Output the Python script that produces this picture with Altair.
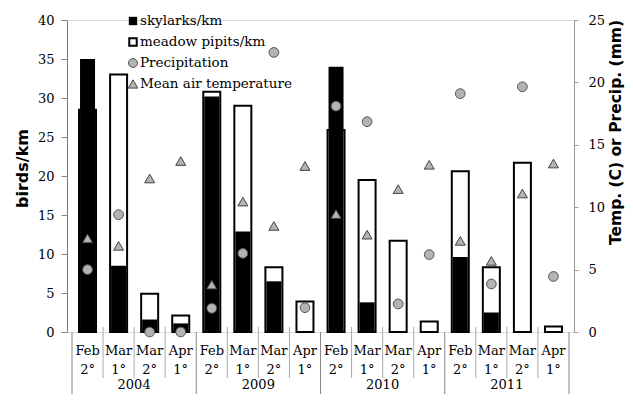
import altair as alt
import pandas as pd

months = ["Feb", "Mar", "Mar", "Apr"] * 4
periods = ["2°", "1°", "2°", "1°"] * 4
years = ["2004", "2009", "2010", "2011"]
skylarks = [35, 8.5, 1.6, 1.1, 30.2, 12.9, 6.5, 0, 34, 3.8, 0, 0, 9.6, 2.5, 0, 0]
pipits = [28.5, 33, 4.9, 2.1, 30.8, 29.0, 8.3, 3.9, 25.9, 19.5, 11.7, 1.35, 20.6, 8.3, 21.7, 0.72]
precip = [5.0, 9.4, 0.0, 0.0, 1.9, 6.3, 22.4, 1.95, 18.1, 16.85, 2.25, 6.2, 19.1, 3.85, 19.65, 4.45]
temp = [7.5, 6.9, 12.3, 13.7, 3.8, 10.45, 8.5, 13.3, 9.45, 7.8, 11.45, 13.4, 7.3, 5.7, 11.1, 13.5]
legend_labels = ["skylarks/km", "meadow pipits/km", "Precipitation", "Mean air temperature"]

SERIF = "DejaVu Serif"
SANS = "DejaVu Sans"
GRAY = "#b3b3b3"
FS = 13

n = len(months)
df = pd.DataFrame({
    "pos": [i + 0.5 for i in range(n)],
    "month": months, "period": periods,
    "sky": skylarks, "mp": pipits, "precip": precip, "temp": temp,
})
ydf = pd.DataFrame({"pos": [4 * g + 2 for g in range(len(years))], "year": years})
minor = pd.DataFrame({"pos": [i for i in range(1, n) if i % 4 != 0]})
major = pd.DataFrame({"pos": [i for i in range(0, n + 1, 4)]})

xs = alt.Scale(domain=[0, n], nice=False, zero=False)
X = alt.X("pos:Q", scale=xs, axis=alt.Axis(labels=False, ticks=False, grid=False, title=None,
                                           domainColor="#999999", domainWidth=1))
Xn = alt.X("pos:Q", scale=xs, axis=None)

yl = alt.Scale(domain=[0, 40], nice=False)
yr = alt.Scale(domain=[0, 25], nice=False)

left_axis = alt.Axis(values=list(range(0, 41, 5)), grid=False, title="birds/km",
                     labelFont=SERIF, labelFontSize=FS, labelColor="black",
                     tickSize=6, tickColor="#888888", domainColor="#777777",
                     labelPadding=7, titleFont=SANS, titleFontSize=16, titleFontWeight="bold",
                     titleColor="black", titleAngle=270, titleX=-45, titleY=148,
                     titleAlign="center", titleBaseline="middle")
right_axis = alt.Axis(orient="right", values=list(range(0, 26, 5)), grid=False,
                      title="Temp. (C) or Precip. (mm)",
                      labelFont=SERIF, labelFontSize=FS, labelColor="black",
                      tickSize=4, tickColor="#999999", domainColor="#999999",
                      labelPadding=10, titleFont=SANS, titleFontSize=15.5, titleFontWeight="bold",
                      titleColor="black", titleAngle=270, titleX=41, titleY=112,
                      titleAlign="center", titleBaseline="middle")

base = alt.Chart(df)
mp_bar = base.mark_bar(size=17, fill="white", stroke="black", strokeWidth=2).encode(
    x=X, y=alt.Y("mp:Q", scale=yl, axis=left_axis))
sky_bar = base.mark_bar(size=15, fill="black").encode(
    x=Xn, y=alt.Y("sky:Q", scale=yl, axis=None))
pr_pt = base.mark_point(shape="circle", filled=True, size=95, fill=GRAY, stroke="#555555",
                        strokeWidth=1, opacity=1).encode(
    x=Xn, y=alt.Y("precip:Q", scale=yr, axis=right_axis))
tp_pt = base.mark_point(shape="triangle-up", filled=True, size=100, fill=GRAY, stroke="#444444",
                        strokeWidth=1, opacity=1).encode(
    x=Xn, y=alt.Y("temp:Q", scale=yr, axis=None))

lab1 = base.mark_text(font=SERIF, fontSize=FS, baseline="middle", color="black").encode(
    x=Xn, y=alt.value(331), text="month:N")
lab2 = base.mark_text(font=SERIF, fontSize=FS, baseline="middle", color="black").encode(
    x=Xn, y=alt.value(350), text="period:N")
ylab = alt.Chart(ydf).mark_text(font=SERIF, fontSize=FS, baseline="middle", color="black").encode(
    x=Xn, y=alt.value(365), text="year:N")
minor_r = alt.Chart(minor).mark_rule(color="#aaaaaa", strokeWidth=1).encode(
    x=Xn, y=alt.value(307), y2=alt.value(358))
major_r = alt.Chart(major).mark_rule(color="#888888", strokeWidth=1).encode(
    x=Xn, y=alt.value(312), y2=alt.value(386))

one = pd.DataFrame({"k": [0]})
leg = []
ly = [1, 22, 43, 64]
leg.append(alt.Chart(one).mark_square(size=70, filled=True, color="black", opacity=1).encode(
    x=alt.value(66), y=alt.value(ly[0])))
leg.append(alt.Chart(one).mark_square(size=56, filled=True, fill="white", stroke="black",
                                      strokeWidth=2, opacity=1).encode(
    x=alt.value(66), y=alt.value(ly[1])))
leg.append(alt.Chart(one).mark_point(shape="circle", size=80, filled=True, fill=GRAY,
                                     stroke="#555555", strokeWidth=1, opacity=1).encode(
    x=alt.value(66), y=alt.value(ly[2])))
leg.append(alt.Chart(one).mark_point(shape="triangle-up", size=90, filled=True, fill=GRAY,
                                     stroke="#444444", strokeWidth=1, opacity=1).encode(
    x=alt.value(66), y=alt.value(ly[3])))
for i, t in enumerate(legend_labels):
    leg.append(alt.Chart(one).mark_text(text=t, font=SERIF, fontSize=13.5, align="left",
                                        baseline="middle", color="black").encode(
        x=alt.value(73), y=alt.value(ly[i])))

chart = alt.layer(mp_bar, sky_bar, pr_pt, tp_pt, lab1, lab2, ylab, minor_r, major_r, *leg).resolve_scale(
    y="independent"
).properties(
    width=507, height=312,
    autosize=alt.AutoSizeParams(type="none"),
    padding={"left": 59, "top": 12, "right": 51, "bottom": 62},
).configure_view(stroke=None).configure(background="white")

chart.save("out.html", embed_options={"renderer": "svg", "actions": False})
